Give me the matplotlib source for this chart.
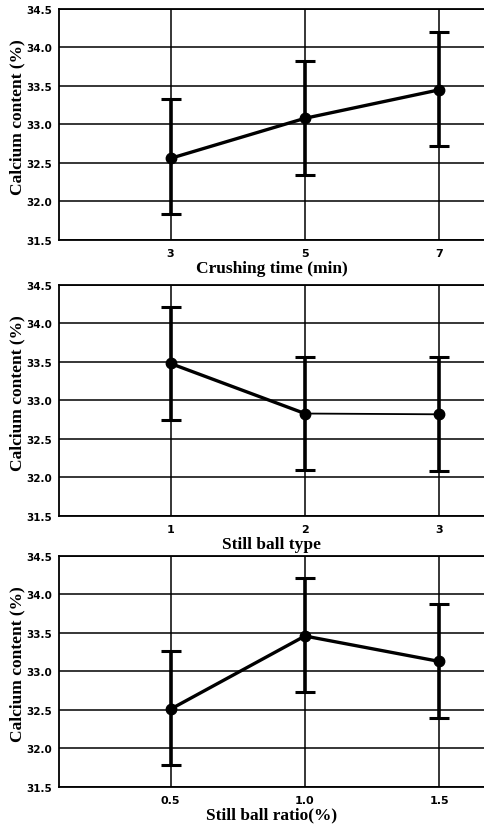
import matplotlib.pyplot as plt
import numpy as np

# values
ylabel = 'Calcium content (%)'

crush_ticks = ['3', '5', '7']
crush_mean = [32.56, 33.08, 33.45]
crush_low = [31.84, 32.35, 32.72]
crush_high = [33.33, 33.83, 34.20]

type_ticks = ['1', '2', '3']
type_mean = [33.48, 32.83, 32.82]
type_low = [32.75, 32.10, 32.09]
type_high = [34.21, 33.57, 33.56]

ratio_ticks = ['0.5', '1.0', '1.5']
ratio_mean = [32.51, 33.46, 33.13]
ratio_low = [31.79, 32.73, 32.40]
ratio_high = [33.26, 34.21, 33.87]

panels = [
    ('Crushing time (min)', crush_ticks, crush_mean, crush_low, crush_high, [2.4, 2.4]),
    ('Still ball type', type_ticks, type_mean, type_low, type_high, [2.4, 1.3]),
    ('Still ball ratio(%)', ratio_ticks, ratio_mean, ratio_low, ratio_high, [2.4, 2.4]),
]

fig = plt.figure(figsize=(4.85, 8.29), dpi=100)
bottoms = [0.7093, 0.3764, 0.0495]

for (xlabel, ticks, mean, low, high, seg_w), b in zip(panels, bottoms):
    ax = fig.add_axes([0.1216, b, 0.8784, 0.2787])
    x = np.arange(len(ticks))
    mean = np.array(mean)
    yerr = [mean - np.array(low), np.array(high) - mean]

    ax.errorbar(x, mean, yerr=yerr, fmt='none', ecolor='black',
                elinewidth=2.6, capsize=7.2, capthick=2.2, zorder=3)
    for i in range(len(x) - 1):
        ax.plot(x[i:i + 2], mean[i:i + 2], color='black', lw=seg_w[i], zorder=4)
    ax.plot(x, mean, 'o', color='black', ms=7.5, zorder=5)

    ax.set_xlim(-0.83, 2.34)
    ax.set_ylim(31.5, 34.5)
    ax.set_yticks(np.arange(31.5, 34.51, 0.5))
    ax.set_yticklabels(['%.1f' % v for v in np.arange(31.5, 34.51, 0.5)])
    ax.set_xticks(x, ticks)
    ax.grid(True, color='black', lw=1.1)
    ax.set_axisbelow(True)
    ax.tick_params(length=0)
    ax.tick_params(axis='y', pad=5, labelsize=7.5)
    ax.tick_params(axis='x', pad=6, labelsize=8)
    for lab in ax.get_xticklabels() + ax.get_yticklabels():
        lab.set_fontweight('bold')
    ax.spines['right'].set_visible(False)
    for s in ['left', 'bottom', 'top']:
        ax.spines[s].set_linewidth(1.3)

    ax.set_xlabel(xlabel, family='Liberation Serif', fontweight='bold',
                  fontsize=12.5, labelpad=1)
    ax.set_ylabel(ylabel, family='Liberation Serif', fontweight='bold',
                  fontsize=12.5)
    ax.yaxis.set_label_coords(-0.08, 0.535)

fig.savefig('out.png', dpi=100)
